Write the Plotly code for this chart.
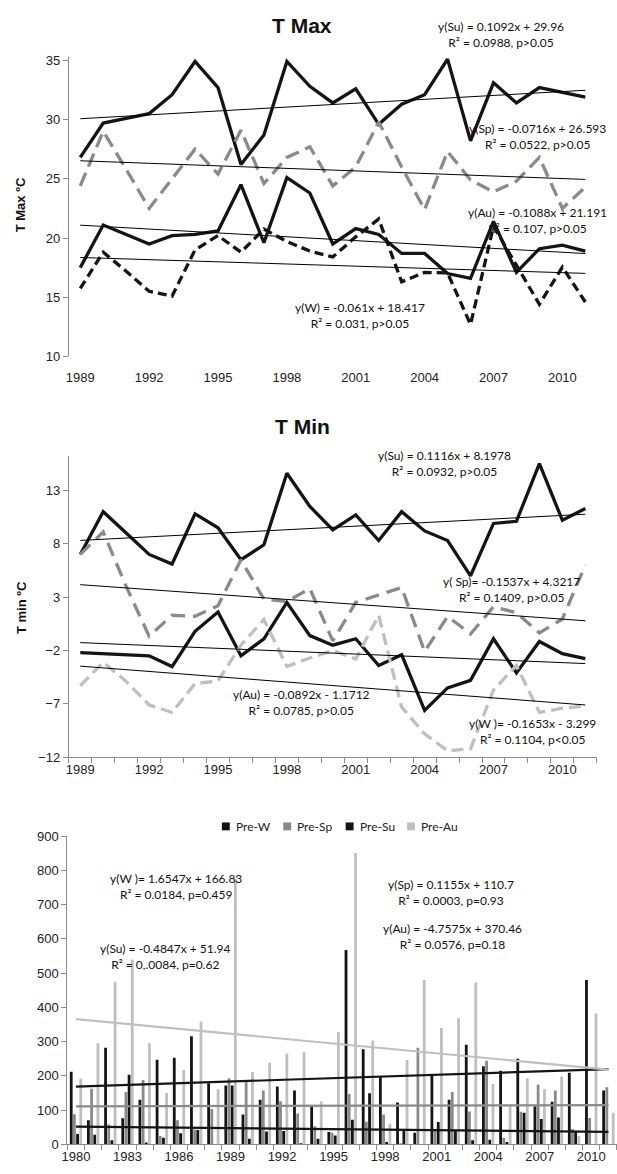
import plotly.graph_objects as go

W_PX, H_PX = 617, 1174

# ---------------- data ----------------
years_t = list(range(1989, 2012))

tmax_su = [26.8, 29.7, 30.1, 30.5, 32.1, 34.9, 32.7, 26.2, 28.7, 34.9, 32.8, 31.4,
           32.6, 29.6, 31.3, 32.1, 35.1, 28.2, 33.1, 31.4, 32.7, 32.3, 31.9]
tmax_sp = [24.4, 29.0, 25.8, 22.5, 25.0, 27.5, 25.4, 29.1, 24.6, 26.8, 27.7, 24.4,
           26.0, 29.8, 26.0, 22.4, 27.3, 24.9, 23.9, 24.8, 26.8, 22.5, 24.3]
tmax_au = [17.5, 21.1, 20.3, 19.5, 20.2, 20.3, 20.6, 24.5, 19.6, 25.1, 23.8, 19.5,
           20.8, 20.3, 18.7, 18.7, 17.0, 16.6, 21.4, 17.1, 19.1, 19.4, 18.9]
tmax_w = [15.75, 18.8, 17.2, 15.5, 15.1, 19.0, 20.2, 18.8, 20.75, 19.7, 18.9, 18.4,
          20.1, 21.6, 16.3, 17.1, 17.05, 12.7, 21.0, 17.7, 14.4, 17.55, 14.6]

tmin_su = [7.0, 11.0, 9.0, 7.0, 6.1, 10.8, 9.5, 6.5, 7.9, 14.6, 11.5, 9.3,
           10.7, 8.3, 11.0, 9.2, 8.3, 5.0, 9.9, 10.1, 15.5, 10.2, 11.3]
tmin_sp = [7.0, 9.1, 4.0, -0.66, 1.3, 1.2, 2.2, 6.5, 2.8, 2.6, 3.8, -1.1,
           2.5, 3.2, 3.9, -2.1, 1.2, -0.45, 2.1, 1.55, -0.35, 0.95, 6.0]
tmin_au = [-2.2, -2.3, -2.4, -2.5, -3.5, -0.2, 1.6, -2.5, -0.9, 2.5, -0.6, -1.5,
           -0.9, -3.4, -2.4, -7.6, -5.5, -4.8, -0.9, -4.1, -1.15, -2.3, -2.75]
tmin_w = [-5.3, -3.1, -4.9, -7.1, -7.8, -5.1, -4.85, -1.5, 0.9, -3.5, -2.7, -2.0,
          -2.8, 1.3, -7.3, -9.8, -11.4, -11.2, -5.7, -3.4, -7.8, -7.4, -7.2]

years_p = list(range(1980, 2012))
pre_w = [212, 70, 282, 76, 130, 247, 253, 316, 178, 172, 87, 130, 169, 157, 111, 36,
         568, 278, 196, 122, 34, 205, 130, 291, 228, 215, 250, 111, 124, 209, 480, 157]
pre_sp = [88, 162, 58, 153, 188, 24, 70, 43, 103, 193, 185, 157, 126, 90, 53, 34,
          147, 66, 87, 3, 282, 39, 153, 96, 244, 19, 95, 174, 157, 45, 77, 167]
pre_su = [30, 28, 12, 203, 5, 19, 32, 42, 0, 172, 16, 37, 39, 2, 16, 26,
          72, 149, 7, 41, 0, 65, 39, 12, 13, 7, 92, 74, 78, 39, 0, 0]
pre_au = [192, 295, 475, 540, 295, 150, 217, 359, 161, 775, 211, 238, 265, 269, 126, 328,
          851, 303, 60, 246, 480, 340, 369, 473, 176, 111, 193, 161, 198, 24, 382, 92]

series_names = ["Pre-W", "Pre-Sp", "Pre-Su", "Pre-Au"]

# trend equations (slope, intercept) as printed on the chart, x = 1..n
tmax_trend = {"Su": (0.1092, 29.96), "Sp": (-0.0716, 26.593),
              "Au": (-0.1088, 21.191), "W": (-0.061, 18.417)}
tmin_trend = {"Su": (0.1116, 8.1978), "Sp": (-0.1537, 4.3217),
              "Au": (-0.0892, -1.1712), "W": (-0.1653, -3.299)}
pre_trend = {"W": (1.6547, 166.83), "Sp": (0.1155, 110.7),
             "Su": (-0.4847, 51.94), "Au": (-4.7575, 370.46)}

tick_years_t = list(range(1989, 2011, 3))
tick_years_p = list(range(1980, 2011, 3))

# ---------------- helpers ----------------
def py(p):
    return 1 - p / H_PX

def px(p):
    return p / W_PX

BLACK = "#141414"
DGRAY = "#8a8a8a"
LGRAY = "#bfbfbf"
AXC = "#8c8c8c"
TICKFONT = dict(family="Liberation Sans Narrow, Arial Narrow, Liberation Sans", size=13, color="#222")
ANNFONT = dict(family="Lato, Liberation Sans", size=12, color="#111")

def trend(xs, slope, icpt):
    return [slope * (i + 1) + icpt for i in range(len(xs))]

fig = go.Figure()

# ---- T Max ----
for vals, col, dash in [(tmax_su, BLACK, "solid"), (tmax_sp, DGRAY, "14px,7px"),
                        (tmax_au, BLACK, "solid"), (tmax_w, BLACK, "9px,5px")]:
    fig.add_trace(go.Scatter(x=years_t, y=vals, mode="lines", xaxis="x", yaxis="y",
                             line=dict(color=col, width=3.3, dash=dash), showlegend=False,
                             cliponaxis=False))
for k in ["Su", "Sp", "Au", "W"]:
    s, b = tmax_trend[k]
    fig.add_trace(go.Scatter(x=years_t, y=trend(years_t, s, b), mode="lines", xaxis="x", yaxis="y",
                             line=dict(color="#000", width=1), showlegend=False))

# ---- T Min ----
for vals, col, dash in [(tmin_su, BLACK, "solid"), (tmin_sp, DGRAY, "14px,8px"),
                        (tmin_au, BLACK, "solid"), (tmin_w, LGRAY, "12px,6px")]:
    fig.add_trace(go.Scatter(x=years_t, y=vals, mode="lines", xaxis="x2", yaxis="y2",
                             line=dict(color=col, width=3.3, dash=dash), showlegend=False))
for k in ["Su", "Sp", "Au", "W"]:
    s, b = tmin_trend[k]
    fig.add_trace(go.Scatter(x=years_t, y=trend(years_t, s, b), mode="lines", xaxis="x2", yaxis="y2",
                             line=dict(color="#000", width=1), showlegend=False))

# ---- Precipitation ----
bar_cols = [BLACK, DGRAY, BLACK, LGRAY]
for name, vals, col in zip(series_names, [pre_w, pre_sp, pre_su, pre_au], bar_cols):
    fig.add_trace(go.Bar(x=years_p, y=vals, name=name, marker=dict(color=col, line=dict(width=0)),
                         xaxis="x3", yaxis="y3", showlegend=False))
for k, col in [("W", BLACK), ("Sp", DGRAY), ("Su", BLACK), ("Au", LGRAY)]:
    s, b = pre_trend[k]
    fig.add_trace(go.Scatter(x=years_p, y=trend(years_p, s, b), mode="lines", xaxis="x3", yaxis="y3",
                             line=dict(color=col, width=2.2), showlegend=False))

common_y = dict(showgrid=False, zeroline=False, showline=True, linecolor=AXC, linewidth=1,
                ticks="outside", ticklen=5, tickcolor=AXC, tickfont=TICKFONT)

fig.update_layout(
    width=W_PX, height=H_PX, margin=dict(l=0, r=0, t=0, b=0),
    paper_bgcolor="white", plot_bgcolor="white",
    barmode="group", bargap=0.26, bargroupgap=0.12,
    showlegend=False,
    xaxis=dict(domain=[px(63.4), px(596.6)], range=[1988.5, 2011.5], anchor="y",
               tickvals=tick_years_t, ticks="", showline=False, showgrid=False, zeroline=False,
               tickfont=TICKFONT, ticklabelstandoff=12),
    yaxis=dict(domain=[py(354), py(50.4)], range=[10, 35.3], tickvals=[10, 15, 20, 25, 30, 35],
               anchor="x", **common_y),
    xaxis2=dict(domain=[px(63.4), px(596.6)], range=[1988.5, 2011.5], anchor="y2",
                tickvals=tick_years_t, ticks="", showline=True, linecolor=AXC, showgrid=False,
                zeroline=False, tickfont=TICKFONT,
                minor=dict(tick0=1988.5, dtick=1, ticks="outside", ticklen=5, tickcolor=AXC)),
    yaxis2=dict(domain=[py(760), py(455)], range=[-12, 16.2], tickvals=[-12, -7, -2, 3, 8, 13],
                anchor="x2", **common_y),
    xaxis3=dict(domain=[px(62), 1.0], range=[1979.5, 2011.5], anchor="y3",
                tickvals=tick_years_p, ticks="", showline=True, linecolor=AXC, showgrid=False,
                zeroline=False, tickfont=TICKFONT,
                minor=dict(tick0=1979.5, dtick=1, ticks="outside", ticklen=5, tickcolor=AXC)),
    yaxis3=dict(domain=[py(1152), py(840)], range=[0, 900], dtick=100, anchor="x3", **common_y),
)

# titles (paper coords)
for text, x, y, size, ang in [("<b>T Max</b>", 299, 19, 21, 0), ("<b>T Min</b>", 299, 425, 21, 0),
                              ("<b>T Max ºC</b>", 15, 200, 13, -90), ("<b>T min ºC</b>", 15, 608, 13, -90)]:
    fig.add_annotation(text=text, x=px(x), y=py(y), xref="paper", yref="paper",
                       xanchor="center", yanchor="middle", showarrow=False,
                       font=dict(family="Liberation Sans", size=size, color="#111"), textangle=ang)

# equation label above the T Max plot area (paper coords)
fig.add_annotation(text="y(Su) = 0.1092x + 29.96<br>R² = 0.0988, p>0.05", x=px(500), y=py(28),
                   xref="paper", yref="paper", xanchor="center", yanchor="middle",
                   showarrow=False, font=ANNFONT, align="center")

# equation labels placed in data coordinates
eq_labels = [
    ("x", "y", "y(Sp) = -0.0716x + 26.593<br>R² = 0.0522, p>0.05", 2008.9, 28.6),
    ("x", "y", "y(Au) = -0.1088x + 21.191<br>R² = 0.107, p>0.05", 2008.9, 21.5),
    ("x", "y", "y(W) = -0.061x + 18.417<br>R² = 0.031, p>0.05", 2001.2, 13.5),
    ("x2", "y2", "y(Su) = 0.1116x + 8.1978<br>R² = 0.0932, p>0.05", 2004.85, 15.5),
    ("x2", "y2", "y( Sp)= -0.1537x + 4.3217<br>R² = 0.1409, p>0.05", 2007.8, 3.75),
    ("x2", "y2", "y(Au) = -0.0892x - 1.1712<br>R² = 0.0785, p>0.05", 1998.65, -6.9),
    ("x2", "y2", "y(W )= -0.1653x - 3.299<br>R² = 0.1104, p<0.05", 2008.7, -9.6),
    ("x3", "y3", "y(W )= 1.6547x + 166.83<br>R² = 0.0184, p=0.459", 1985.8, 753),
    ("x3", "y3", "y(Su) = -0.4847x + 51.94<br>R² = 0,.0084, p=0.62", 1985.2, 549),
    ("x3", "y3", "y(Sp) = 0.1155x + 110.7<br>R² = 0.0003, p=0.93", 2001.85, 736),
    ("x3", "y3", "y(Au) = -4.7575x + 370.46<br>R² = 0.0576, p=0.18", 2001.9, 606),
]
for xr, yr, text, x, y in eq_labels:
    fig.add_annotation(text=text, x=x, y=y, xref=xr, yref=yr, xanchor="center", yanchor="middle",
                       showarrow=False, font=ANNFONT, align="center")

# legend for the precipitation chart (squares + text)
leg_x = [222, 284, 347, 409]
leg_y = 830
for name, col, lx in zip(series_names, bar_cols, leg_x):
    fig.add_shape(type="rect", xref="paper", yref="paper",
                  x0=px(lx - 4), x1=px(lx + 4), y0=py(leg_y + 4), y1=py(leg_y - 4),
                  fillcolor=col, line=dict(width=0))
    fig.add_annotation(text=name, x=px(lx + 8), y=py(leg_y), xref="paper", yref="paper",
                       xanchor="left", yanchor="middle", showarrow=False,
                       font=dict(family="Lato, Liberation Sans", size=12, color="#222"))

fig.write_html("out.html", config={"displayModeBar": False},
               post_script="document.body.style.margin='0px';document.body.style.padding='0px';"
                           "document.body.style.overflow='hidden';")
